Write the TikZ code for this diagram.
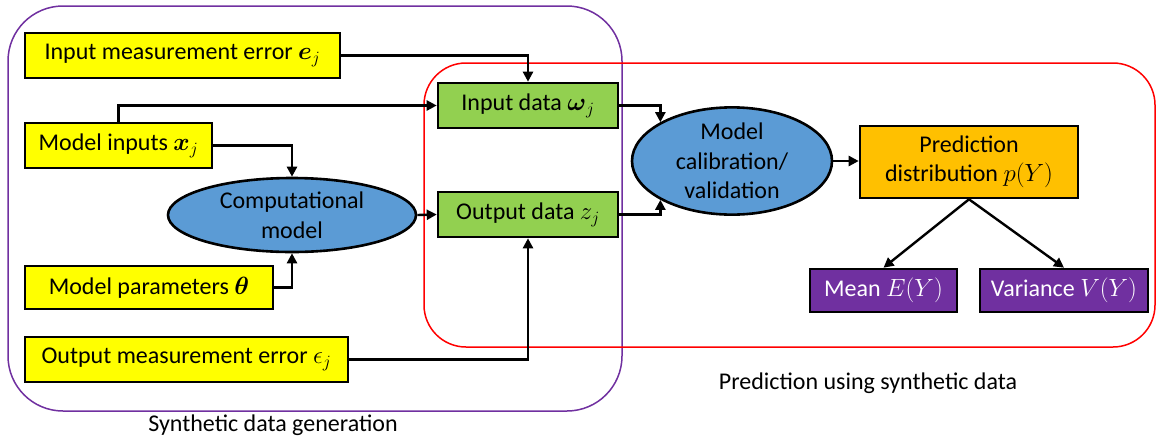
\documentclass[tikz,border=0pt]{standalone}
\usepackage{amsmath}
\usepackage{fontspec}
\setmainfont{Carlito}
\usetikzlibrary{shapes.geometric,arrows.meta}
\definecolor{boxyellow}{HTML}{FFFF00}
\definecolor{boxgreen}{HTML}{92D050}
\definecolor{ellblue}{HTML}{5B9BD5}
\definecolor{boxorange}{HTML}{FFC000}
\definecolor{boxpurple}{HTML}{7030A0}
\definecolor{framered}{HTML}{FF0000}
\tikzset{
  every node/.style={font=\fontsize{24}{29.5}\selectfont, inner sep=0pt},
  basebox/.style={draw=black, line width=2.6pt, rectangle, align=center},
  inbox/.style={basebox, fill=boxyellow},
  databox/.style={basebox, fill=boxgreen},
  predbox/.style={basebox, fill=boxorange},
  statbox/.style={basebox, fill=boxpurple, text=white},
  modelell/.style={draw=black, line width=2.6pt, ellipse, fill=ellblue, align=center},
  link/.style={draw=black, line width=2.4pt, -{Triangle[length=10pt,width=10pt]}},
  groupframe/.style={line width=1.5pt},
}
\begin{document}
\begin{tikzpicture}[x=1pt, y=-1pt]
  \useasboundingbox (0,0) rectangle (1156,440);

  % group frames
  \draw[groupframe, draw=boxpurple, rounded corners=55pt] (8,6) rectangle (622,411);
  \draw[groupframe, draw=framered, rounded corners=42pt] (424,63) rectangle (1155,347);

  % synthetic data generation side
  \node[inbox, minimum width=315pt, minimum height=45pt] (ime) at (182.5,55.5)
    {Input measurement error $\boldsymbol{e}_j$};
  \node[inbox, minimum width=187pt, minimum height=45pt] (mi) at (118.5,145.5)
    {Model inputs $\boldsymbol{x}_j$};
  \node[inbox, minimum width=248pt, minimum height=43pt] (mp) at (149,287.5)
    {Model parameters $\boldsymbol{\theta}$};
  \node[inbox, minimum width=323pt, minimum height=45pt] (ome) at (186.5,359.5)
    {Output measurement error $\epsilon_j$};
  \node[modelell, minimum width=248pt, minimum height=74pt] (cm) at (292,215)
    {Computational\\model};

  % data boxes
  \node[databox, minimum width=180pt, minimum height=45pt] (ind) at (528,105.5)
    {Input data $\boldsymbol{\omega}_j$};
  \node[databox, minimum width=180pt, minimum height=45pt] (outd) at (528,214.5)
    {Output data $z_j$};

  % prediction side
  \node[modelell, minimum width=200pt, minimum height=87pt] (mc) at (732,161)
    {Model\\calibration/\\validation};
  \node[predbox, minimum width=218pt, minimum height=72pt] (pd) at (969,162)
    {Prediction\\distribution $p(Y)$};
  \node[statbox, minimum width=147pt, minimum height=43pt] (mean) at (883.5,290.5)
    {Mean $E(Y)$};
  \node[statbox, minimum width=168pt, minimum height=43pt] (var) at (1064,290.5)
    {Variance $V(Y)$};

  % connectors
  \draw[link] (ime.east) -| (ind.north);
  \draw[link] (mi.north) |- (ind.west);
  \draw[link] (mi.east) -| (cm.north);
  \draw[link] (mp.east) -| (cm.south);
  \draw[link] (cm.east) -- (outd.west);
  \draw[link] (ome.east) -| (outd.south);
  \draw[link] (ind.east) -| (mc.north west);
  \draw[link] (outd.east) -| (mc.south west);
  \draw[link] (mc.east) -- (pd.west |- mc.east);
  \draw[link] (pd.south) -- (mean.north);
  \draw[link] (pd.south) -- (var.north);

  % group captions
  \node (lblsyn) at (273,425) {Synthetic data generation};
  \node (lblpred) at (868,383) {Prediction using synthetic data};
\end{tikzpicture}
\end{document}
